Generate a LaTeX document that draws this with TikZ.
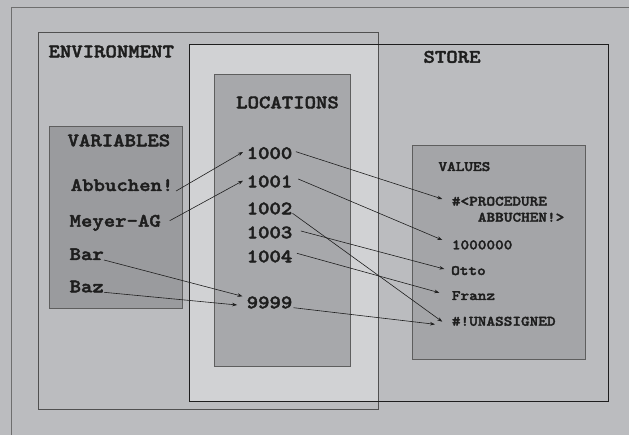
\documentclass[tikz,border=0pt]{standalone}
\usepackage{fontspec}
% heavy slab-serif typewriter face, widened to a 0.6em advance
\newfontfamily\cour{lmmonolt10-bold.otf}[FakeStretch=1.143, FakeBold=2.2]
\usetikzlibrary{arrows.meta}

\definecolor{bggray}{HTML}{BBBCBF}
\definecolor{overlapgray}{HTML}{D1D2D4}
\definecolor{boxgray}{HTML}{A7A8AB}
\definecolor{vargray}{HTML}{9A9B9E}
\definecolor{inkgray}{HTML}{1E1E1E}
\definecolor{edgegray}{HTML}{5E5E5E}

\tikzset{
  big/.style={inner sep=0pt, anchor=base west, text=inkgray,
    font=\cour\fontsize{19}{21}\selectfont},
  small/.style={inner sep=0pt, anchor=base west, text=inkgray,
    font=\cour\fontsize{14.4}{16}\selectfont},
  panel/.style={draw=edgegray, line width=0.9pt},
  link/.style={draw=inkgray, line width=0.6pt,
    -{Stealth[length=5pt,width=3.6pt]}},
}

\begin{document}
\begin{tikzpicture}[x=1pt, y=-1pt]
  % canvas
  \fill[bggray] (0,0) rectangle (629,435);
  \useasboundingbox (0,0) rectangle (629,435);
  \draw[draw=edgegray!90, line width=1pt] (11,445) -- (11,7.3) -- (640,7.3);

  % shared region of environment and store
  \fill[overlapgray] (189.3,44) rectangle (378.3,401.3);

  % environment and store frames
  \draw[draw=edgegray!85!black, line width=1pt] (38.5,32.5) rectangle (378.3,409);
  \draw[draw=inkgray, line width=0.9pt] (189.3,44) rectangle (608,401.3);

  % inner panels
  \draw[panel, fill=boxgray] (214,74.3) rectangle (350,366.3);
  \draw[panel, fill=vargray] (49.3,126) rectangle (182.5,308.3);
  \draw[panel, fill=boxgray!98!black] (412.4,145.7) rectangle (585.2,359);

  % headings
  \node[big] (envlabel) at (48.3,57.3) {ENVIRONMENT};
  \node[big] (storelabel) at (423.3,62.7) {STORE};
  \node[big] (loclabel) at (236,108.3) {LOCATIONS};
  \node[big] (varlabel) at (67.4,146.3) {VARIABLES};
  \node[small] (vallabel) at (438.3,171) {VALUES};

  % variables
  \node[big] (ab) at (70.6,191) {Abbuchen!};
  \node[big] (mey) at (69.4,226.7) {Meyer-AG};
  \node[big] (bar) at (69.4,260) {Bar};
  \node[big] (baz) at (69.4,292.3) {Baz};

  % locations
  \node[big] (l1000) at (246.5,159) {1000};
  \node[big] (l1001) at (246.5,187.3) {1001};
  \node[big] (l1002) at (246.5,214.3) {1002};
  \node[big] (l1003) at (246.5,238.3) {1003};
  \node[big] (l1004) at (246.5,262.3) {1004};
  \node[big] (l9999) at (246.5,308.3) {9999};

  % values
  \node[small] (proc) at (451.7,205.7) {\#<PROCEDURE};
  \node[small] (proctail) at (477.7,221.7) {ABBUCHEN!>};
  \node[small] (mil) at (451.7,249.3) {1000000};
  \node[small] (otto) at (451,275) {Otto};
  \node[small] (franz) at (451.7,300) {Franz};
  \node[small] (unas) at (451.7,325.7) {\#!UNASSIGNED};

  % variable -> location
  \draw[link] ([xshift=2.5pt]ab.base east) -- ([xshift=-3.5pt,yshift=7pt]l1000.base west);
  \draw[link] ([xshift=8.7pt,yshift=6pt]mey.base east) -- ([xshift=-3.5pt,yshift=6.6pt]l1001.base west);
  \draw[link] (bar.base east) -- ([xshift=-4pt,yshift=12pt]l9999.base west);
  \draw[link] (baz.base east) -- ([xshift=-9.4pt,yshift=3.3pt]l9999.base west);

  % location -> value
  \draw[link] ([xshift=3.4pt,yshift=7.3pt]l1000.base east) -- ([xshift=-9.4pt,yshift=6.7pt]proc.base west);
  \draw[link] ([xshift=5.7pt,yshift=8.3pt]l1001.base east) -- ([xshift=-9.4pt,yshift=9.3pt]mil.base west);
  \draw[link] ([yshift=1pt]l1002.base east) -- ([xshift=-9.4pt,yshift=4pt]unas.base west);
  \draw[link] ([xshift=8.4pt,yshift=7.3pt]l1003.base east) -- ([xshift=-6.7pt,yshift=6pt]otto.base west);
  \draw[link] ([xshift=4.4pt,yshift=9pt]l1004.base east) -- ([xshift=-12.4pt,yshift=7.3pt]franz.base west);
  \draw[link] ([xshift=1pt,yshift=0.6pt]l9999.base east) -- ([xshift=-16.7pt,yshift=1.4pt]unas.base west);
\end{tikzpicture}
\end{document}
